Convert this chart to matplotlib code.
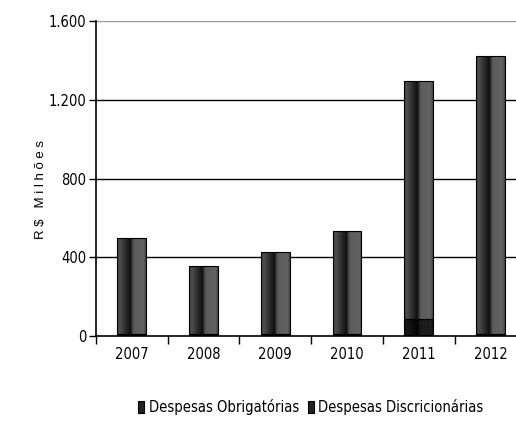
import numpy as np
import matplotlib.pyplot as plt

anos = ["2007", "2008", "2009", "2010", "2011", "2012"]
obrigatorias = [10, 10, 10, 10, 86, 10]
discricionarias = [487, 345, 418, 525, 1209, 1415]

fonte = {"family": "DejaVu Sans", "stretch": "condensed", "size": 10.5}

fig = plt.figure(figsize=(5.16, 4.41), dpi=100)
ax = fig.add_axes([0.186, 0.238, 0.834, 0.714])

x = np.arange(len(anos))
b1 = ax.bar(x, obrigatorias, 0.40, color="#141414", edgecolor="black", linewidth=0.8,
            label="Despesas Obrigatórias")
b2 = ax.bar(x, discricionarias, 0.40, bottom=obrigatorias, color="#4a4a4a",
            edgecolor="black", linewidth=0.8, label="Despesas Discricionárias")

# sombreado tipo cilindro
grad = np.concatenate([np.linspace(0.22, 0.30, 6), np.linspace(0.30, 0.04, 24),
                       np.linspace(0.18, 0.36, 6), np.linspace(0.36, 0.38, 18),
                       np.linspace(0.38, 0.26, 6)])
for bars, esc in ((b1, 0.3), (b2, 1.0)):
    for p in bars:
        x0, y0 = p.get_x(), p.get_y()
        w, h = p.get_width(), p.get_height()
        im = ax.imshow((grad * esc)[None, :], cmap="gray", vmin=0, vmax=1, aspect="auto",
                       extent=(x0, x0 + w, y0, y0 + h), zorder=p.get_zorder(),
                       interpolation="nearest")
        im.set_clip_path(p)
        p.set_facecolor("none")
        p.set_zorder(p.get_zorder() + 0.1)

ax.set_xlim(-0.5, len(anos) - 0.5)
ax.set_ylim(0, 1600)
ax.set_yticks([0, 400, 800, 1200, 1600])
ax.set_yticklabels(["0", "400", "800", "1.200", "1.600"], fontdict=fonte)
ax.set_xticks(x)
ax.set_xticklabels(anos, fontdict=fonte)
ax.tick_params(axis="x", length=0, pad=8)
ax.set_xticks(np.arange(len(anos) + 1) - 0.5, minor=True)
ax.tick_params(axis="x", which="minor", length=6, width=1, direction="out")
ax.tick_params(axis="y", length=5, width=1, direction="out", pad=2)

for v in [400, 800, 1200]:
    ax.axhline(v, color="black", linewidth=1, zorder=0)
ax.axhline(1600, color="#999999", linewidth=1, zorder=0)

for s in ["top", "right"]:
    ax.spines[s].set_visible(False)
ax.spines["left"].set_linewidth(1.2)
ax.spines["bottom"].set_linewidth(1.2)

fig.text(0.08, 0.57, "R $   M i l h õ e s", rotation=90, ha="center", va="center",
         fontsize=9.5, family="Liberation Sans")

leg = fig.legend(handles=[b1, b2], loc="center", bbox_to_anchor=(0.602, 0.077), ncol=2,
                 frameon=False, prop=fonte, handlelength=0.45,
                 handleheight=0.9, handletextpad=0.3, columnspacing=0.6)
for h in leg.legend_handles:
    h.set_facecolor("#222222")

fig.savefig("out.png", dpi=100)
